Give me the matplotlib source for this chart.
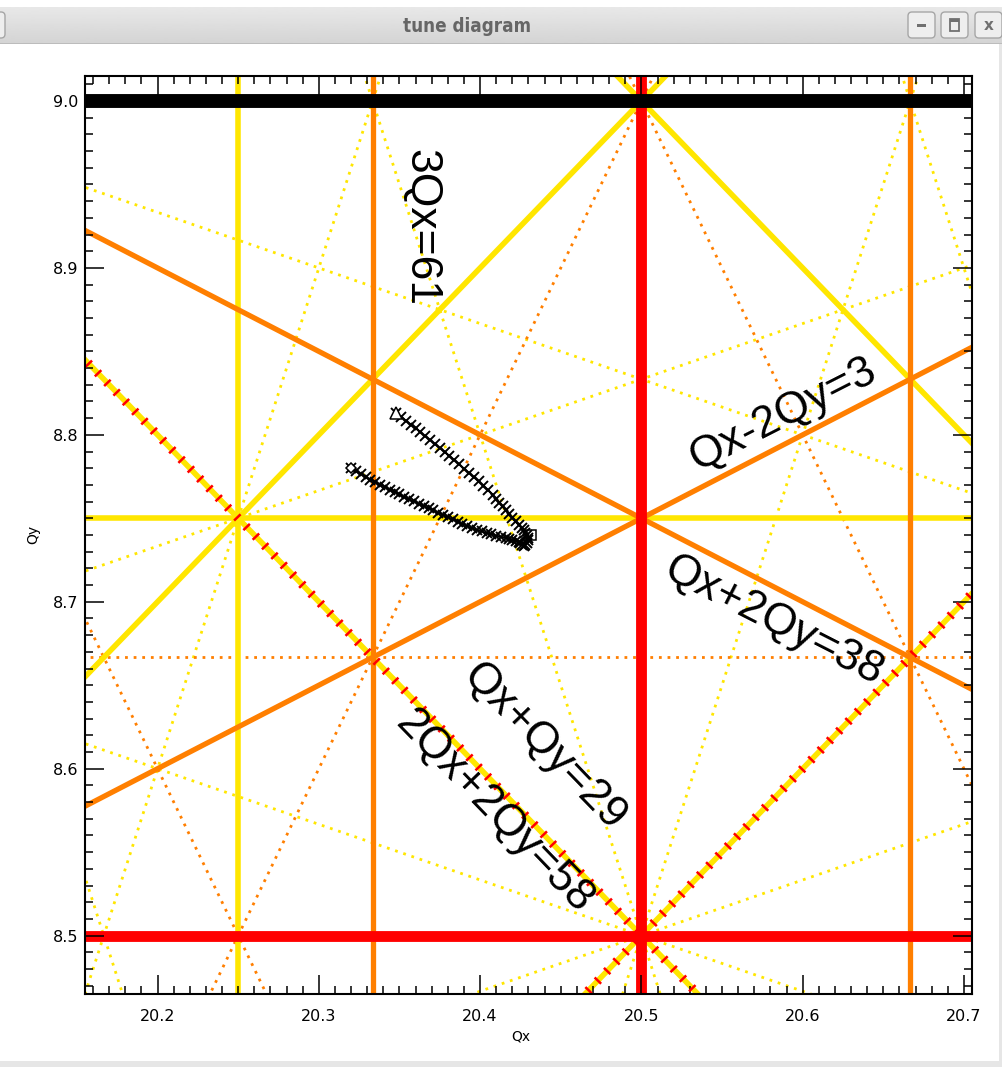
import numpy as np
import matplotlib
matplotlib.use("Agg")
import matplotlib.pyplot as plt
from matplotlib.patches import FancyBboxPatch, Rectangle
from matplotlib.ticker import MultipleLocator

FIG_W, FIG_H = 1003, 1067
DPI          = 100

QX_RANGE = (20.155, 20.705)
QY_RANGE = (8.465, 9.015)

# resonance lines  m*Qx + n*Qy = p
RES_M = [0,  2, 0, 1,  1,  3, 3, 1,  1, 0, 2, 2,  2,  4, 0, 2, 2,  2,  2, 3, 3, 3,  3,  3, 1, 1,  1,  1]
RES_N = [1,  0, 2, 1, -1,  0, 0, 2, -2, 3, 1, 1, -1,  0, 4, 2, 2, -2, -2, 1, 1, 1, -1, -1, 3, 3, -3, -3]
RES_P = [9, 41, 17, 29, 12, 61, 62, 38, 3, 26, 49, 50, 32, 81, 35, 58, 59, 23, 24, 69, 70, 71, 52, 53, 46, 47, -6, -5]

# tune track, lower branch (starts at the diamond)
LOWER_QX = [20.320, 20.323, 20.326, 20.329, 20.332, 20.335, 20.338, 20.341, 20.344, 20.347,
            20.350, 20.353, 20.356, 20.359, 20.362, 20.365, 20.368, 20.371, 20.374, 20.377,
            20.380, 20.383, 20.386, 20.389, 20.392, 20.395, 20.398, 20.401, 20.404, 20.407,
            20.410, 20.413, 20.416, 20.418, 20.420, 20.422, 20.424, 20.425, 20.426, 20.427]
LOWER_QY = [8.7800, 8.7783, 8.7766, 8.7749, 8.7732, 8.7717, 8.7702, 8.7687, 8.7672, 8.7657,
            8.7643, 8.7628, 8.7614, 8.7601, 8.7587, 8.7574, 8.7560, 8.7547, 8.7534, 8.7520,
            8.7507, 8.7493, 8.7480, 8.7467, 8.7453, 8.7440, 8.7430, 8.7421, 8.7412, 8.7404,
            8.7396, 8.7389, 8.7382, 8.7376, 8.7370, 8.7364, 8.7357, 8.7350, 8.7342, 8.7334]

# tune track, upper branch (starts at the triangle)
UPPER_QX = [20.348, 20.351, 20.354, 20.357, 20.360, 20.363, 20.366, 20.369, 20.372, 20.375,
            20.378, 20.381, 20.384, 20.387, 20.390, 20.393, 20.396, 20.399, 20.402, 20.405,
            20.408, 20.410, 20.412, 20.414, 20.416, 20.418, 20.420, 20.422, 20.424, 20.426,
            20.427, 20.428, 20.429, 20.430, 20.430, 20.429, 20.428]
UPPER_QY = [8.8131, 8.8108, 8.8085, 8.8062, 8.8039, 8.8016, 8.7992, 8.7969, 8.7945, 8.7921,
            8.7898, 8.7874, 8.7849, 8.7824, 8.7798, 8.7773, 8.7747, 8.7722, 8.7696, 8.7669,
            8.7638, 8.7616, 8.7594, 8.7571, 8.7548, 8.7524, 8.7503, 8.7482, 8.7461, 8.7440,
            8.7428, 8.7414, 8.7400, 8.7385, 8.7368, 8.7352, 8.7340]
END_QX, END_QY = 20.4314, 8.7402

# labels: text, Qx, Qy, rotation
LABELS = [
    ("3Qx=61",     20.3631, 8.9243, -90),
    ("Qx-2Qy=3",   20.5883, 8.8122,  27),
    ("Qx+2Qy=38",  20.5821, 8.6882, -27),
    ("Qx+Qy=29",   20.4400, 8.6127, -46),
    ("2Qx+2Qy=58", 20.4090, 8.5743, -46),
]

YELLOW = "#ffe600"
ORANGE = "#ff7f00"
RED    = "#ff0000"


def px(x, y):
    """pixel position (from top left) -> figure fraction"""
    return x / FIG_W, 1 - y / FIG_H


def line_style(m, n):
    order = abs(m) + abs(n)
    skew  = n % 2 == 1
    if order == 1:
        return dict(color="black", lw=10, zorder=1.7)
    if order == 2:
        if skew:
            return dict(color=RED, lw=6.5, dashes=(0.28, 1.2), dash_capstyle="butt", zorder=1.6)
        return dict(color=RED, lw=7.8, zorder=1.5)
    color = ORANGE if order == 3 else YELLOW
    if skew:
        z = 1.2 if order == 3 else 1.1
        return dict(color=color, lw=2.0, dashes=(1.0, 2.1), dash_capstyle="butt", zorder=z)
    z = 1.4 if order == 3 else 1.3
    return dict(color=color, lw=3.8 if order == 3 else 4.0, zorder=z)


def draw_resonances(ax):
    x0, x1 = QX_RANGE
    y0, y1 = QY_RANGE
    for m, n, p in zip(RES_M, RES_N, RES_P):
        if n == 0:
            xs = [p / m, p / m]
            ys = [y0 - 0.05, y1 + 0.05]
        else:
            xs = [x0 - 0.05, x1 + 0.05]
            ys = [(p - m * x) / n for x in xs]
        ax.plot(xs, ys, solid_capstyle="butt", **line_style(m, n))


def draw_window(fig):
    # title bar
    bar = fig.add_axes([0, 1 - 44 / FIG_H, 1, 37 / FIG_H])
    grad = np.linspace(0.91, 0.83, 40).reshape(-1, 1)
    bar.imshow(grad, aspect="auto", cmap="gray", vmin=0, vmax=1,
               extent=(0, FIG_W, 0, 37), interpolation="bilinear")
    bar.set_xlim(0, FIG_W)
    bar.set_ylim(0, 37)
    bar.axis("off")
    bar.axhline(0.5, color="#b8b8b8", lw=1.2)
    bar.text(467, 18, "tune diagram", ha="center", va="center", fontsize=13.5,
             fontweight="bold", color="#666666", family="DejaVu Sans", fontstretch="condensed")

    for bx in (-22, 908, 941, 975):
        bar.add_patch(FancyBboxPatch((bx, 6), 27, 26, boxstyle="round,pad=0,rounding_size=4",
                                     fc="#eeeeee", ec="#a6a6a6", lw=1.0))
    bar.add_patch(Rectangle((917, 17), 9, 3, fc="#707070", ec="none"))
    bar.add_patch(Rectangle((950, 13), 9, 12, fc="none", ec="#707070", lw=1.3))
    bar.add_patch(Rectangle((950, 22), 9, 3, fc="#707070", ec="none"))
    bar.text(988.5, 19, "x", ha="center", va="center", fontsize=11, fontweight="bold", color="#707070")

    # window border
    fig.patches.append(Rectangle(px(0, FIG_H), 1, 6 / FIG_H, transform=fig.transFigure,
                                 fc="#e6e6e6", ec="none"))
    fig.patches.append(Rectangle(px(999, FIG_H), 4 / FIG_W, 1 - 44 / FIG_H, transform=fig.transFigure,
                                 fc="#e6e6e6", ec="none"))


def main():
    fig = plt.figure(figsize=(FIG_W / DPI, FIG_H / DPI), dpi=DPI, facecolor="white")
    left, bottom = px(85, 994)
    right, top   = px(972, 76)
    ax = fig.add_axes([left, bottom, right - left, top - bottom])

    draw_resonances(ax)

    track = dict(color="black", lw=1.2, marker="x", ms=7, mew=1.4, zorder=3)
    ax.plot(LOWER_QX, LOWER_QY, **track)
    ax.plot(UPPER_QX, UPPER_QY, **track)
    ax.plot(LOWER_QX[0], LOWER_QY[0], marker="D", ms=5.5, mfc="white", mec="black", mew=1.1, zorder=3.1)
    ax.plot(UPPER_QX[0], UPPER_QY[0], marker="^", ms=8.5, mfc="white", mec="black", mew=1.1, zorder=3.1)
    ax.plot(END_QX, END_QY, marker="s", ms=6.5, mfc="none", mec="black", mew=1.1, zorder=3.1)

    for text, qx, qy, rot in LABELS:
        ax.text(qx, qy, text, rotation=rot, rotation_mode="anchor", ha="center", va="center",
                fontsize=32, family=["Liberation Sans", "DejaVu Sans"], zorder=4)

    ax.set_xlim(*QX_RANGE)
    ax.set_ylim(*QY_RANGE)
    ax.xaxis.set_major_locator(MultipleLocator(0.1))
    ax.xaxis.set_minor_locator(MultipleLocator(0.01))
    ax.yaxis.set_major_locator(MultipleLocator(0.1))
    ax.yaxis.set_minor_locator(MultipleLocator(0.01))
    ax.xaxis.set_major_formatter(lambda v, pos: f"{v:.1f}")
    ax.yaxis.set_major_formatter(lambda v, pos: f"{v:.1f}")
    ax.tick_params(which="both", direction="in", top=True, right=True, width=1.1, color="black")
    ax.tick_params(which="major", length=13.5)
    ax.tick_params(which="minor", length=5.8)
    ax.tick_params(axis="x", which="major", labelsize=11.5, pad=11)
    ax.tick_params(axis="y", which="major", labelsize=11.5, pad=5)
    for sp in ax.spines.values():
        sp.set_linewidth(1.5)
        sp.set_zorder(5)

    fig.text(*px(521, 1037), "Qx", ha="center", va="center", fontsize=10)
    fig.text(*px(33, 534), "Qy", ha="center", va="center", fontsize=10, rotation=90)

    draw_window(fig)

    fig.savefig("out.png", dpi=DPI)
    plt.close(fig)


if __name__ == "__main__":
    main()
